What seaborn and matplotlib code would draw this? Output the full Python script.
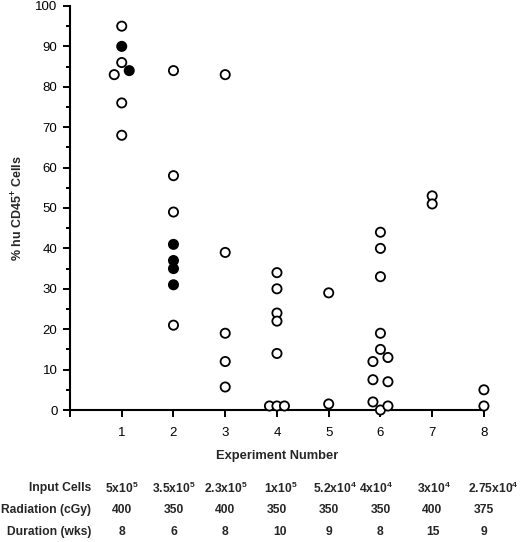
import pandas as pd
import matplotlib.pyplot as plt
import matplotlib.transforms as mtransforms
from matplotlib.ticker import MultipleLocator
import seaborn as sns

sns.set_theme(style="ticks")
plt.rcParams['font.family'] = ['Liberation Sans', 'DejaVu Sans']
plt.rcParams['mathtext.fontset'] = 'custom'
plt.rcParams['mathtext.rm'] = 'Liberation Sans'
plt.rcParams['mathtext.bf'] = 'Liberation Sans:bold'

# Datos
experimento = [1, 1, 1, 1, 1, 1, 1,
               2, 2, 2, 2, 2, 2, 2, 2,
               3, 3, 3, 3, 3,
               4, 4, 4, 4, 4, 4, 4, 4,
               5, 5,
               6, 6, 6, 6, 6, 6, 6, 6, 6, 6, 6, 6,
               7, 7,
               8, 8]
porcentaje = [95, 90, 86, 84, 83, 76, 68,
              84, 58, 49, 41, 37, 35, 31, 21,
              83, 39, 19, 12, 5.7,
              34, 30, 24, 22, 14, 1, 1, 1,
              29, 1.5,
              44, 40, 33, 19, 15, 13, 12, 7.5, 7, 2, 0, 1,
              53, 51,
              5, 1]
relleno = [False, True, False, True, False, False, False,
           False, False, False, True, True, True, True, False,
           False, False, False, False, False,
           False, False, False, False, False, False, False, False,
           False, False,
           False, False, False, False, False, False, False, False, False, False, False, False,
           False, False,
           False, False]
# lado para separar puntos superpuestos (-1 izq, 0 centro, 1 der)
lado = [0, 0, 0, 1, -1, 0, 0,
        0, 0, 0, 0, 0, 0, 0, 0,
        0, 0, 0, 0, 0,
        0, 0, 0, 0, 0, -1, 0, 1,
        0, 0,
        0, 0, 0, 0, 0, 1, -1, -1, 1, -1, 0, 1,
        0, 0,
        0, 0]

input_cells = [r'5x10$^{\mathbf{5}}$', r'3.5x10$^{\mathbf{5}}$', r'2.3x10$^{\mathbf{5}}$',
               r'1x10$^{\mathbf{5}}$', r'5.2x10$^{\mathbf{4}}$', r'4x10$^{\mathbf{4}}$',
               r'3x10$^{\mathbf{4}}$', r'2.75x10$^{\mathbf{4}}$']
radiacion = ['400', '350', '400', '350', '350', '350', '400', '375']
duracion = ['8', '6', '8', '10', '9', '8', '15', '9']

DODGE = 0.145
df = pd.DataFrame({'exp': experimento, 'valor': porcentaje,
                   'relleno': relleno, 'lado': lado})
df['xpos'] = df['exp'] + df['lado'] * DODGE

fig = plt.figure(figsize=(5.2, 5.42), dpi=100)
ax = fig.add_axes([0.1346, 0.2435, 0.798, 0.7455])

sns.scatterplot(data=df, x='xpos', y='valor', hue='relleno',
                palette={True: 'black', False: 'white'},
                edgecolor='black', linewidth=1.3, s=44, legend=False,
                clip_on=False, zorder=3, ax=ax)

ax.set_xlim(0, 8.02)
ax.set_ylim(0, 100)
ax.set_xticks(range(0, 9))
ax.set_xticklabels([''] + [str(i) for i in range(1, 9)])
ax.yaxis.set_major_locator(MultipleLocator(10))
ax.yaxis.set_minor_locator(MultipleLocator(5))
ax.tick_params(axis='both', which='major', length=5, width=1.4,
               labelsize=9.5, color='black', labelcolor='black')
ax.tick_params(axis='y', which='minor', length=3, width=1.4, color='black')
ax.tick_params(axis='x', pad=7)
ax.tick_params(axis='y', pad=4)
for s in ['top', 'right']:
    ax.spines[s].set_visible(False)
for s in ['left', 'bottom']:
    ax.spines[s].set_linewidth(1.5)
    ax.spines[s].set_color('black')

ax.set_xlabel('Experiment Number', fontsize=9.3, fontweight='bold', labelpad=8)
ax.set_ylabel('% hu CD45$^{\\mathbf{+}}$ Cells', fontsize=9, fontweight='bold', labelpad=7)

# Tabla inferior
trans = mtransforms.blended_transform_factory(ax.transData, fig.transFigure)
desplaz_cells = [0, 0, 1, 4, 6, -4, 2, 9]   # px
filas = [('Input Cells', input_cells, 1 - 488 / 542, desplaz_cells),
         ('Radiation (cGy)', radiacion, 1 - 510 / 542, [0] * 8),
         ('Duration (wks)', duracion, 1 - 532 / 542, [0, 0, 0, 3, 0, 0, 1, 0])]
for etiqueta, valores, yfig, desp in filas:
    fig.text(91 / 520, yfig, etiqueta, ha='right', va='center',
             fontsize=8.7, fontweight='bold')
    for i, v in enumerate(valores):
        t = trans + mtransforms.ScaledTranslation(desp[i] / 100, 0, fig.dpi_scale_trans)
        ax.text(i + 1, yfig, v, transform=t, ha='center', va='center',
                fontsize=8.7, fontweight='bold', clip_on=False)

plt.savefig('out.png', dpi=100)
plt.close()
